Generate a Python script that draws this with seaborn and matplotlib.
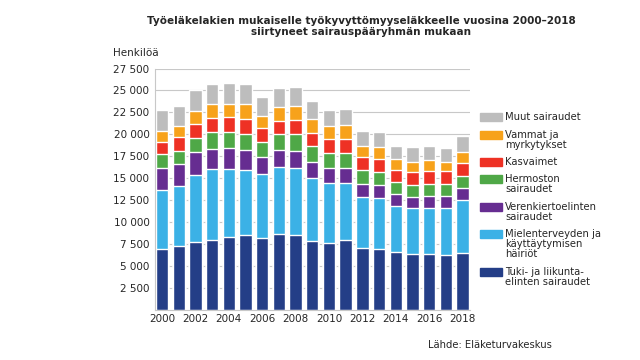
import pandas as pd
import matplotlib
matplotlib.use("Agg")
import matplotlib.pyplot as plt
from matplotlib.patches import Rectangle
import seaborn as sns

years = [str(y) for y in range(2000, 2019)]

# segment values, bottom to top
tuki = [7000, 7250, 7780, 8000, 8300, 8500, 8190, 8610, 8570, 7890,
        7670, 7970, 7020, 6990, 6610, 6420, 6340, 6230, 6460]
mieli = [6700, 6870, 7630, 8000, 7740, 7440, 7250, 7660, 7550, 7170,
         6800, 6500, 5820, 5780, 5210, 5140, 5290, 5440, 6080]
veren = [2420, 2490, 2530, 2380, 2450, 2300, 2000, 1960, 2000, 1780,
         1700, 1700, 1510, 1430, 1360, 1280, 1360, 1280, 1360]
hermo = [1590, 1550, 1700, 1890, 1810, 1850, 1700, 1810, 1930, 1850,
         1740, 1740, 1550, 1550, 1360, 1430, 1400, 1360, 1400]
kasv = [1430, 1510, 1590, 1550, 1700, 1700, 1550, 1510, 1620, 1470,
        1510, 1590, 1470, 1400, 1400, 1440, 1470, 1470, 1470]
vamm = [1280, 1250, 1470, 1590, 1470, 1620, 1430, 1620, 1590, 1620,
        1510, 1510, 1320, 1400, 1210, 1170, 1170, 1020, 1210]
muut = [2300, 2300, 2380, 2380, 2420, 2300, 2190, 2110, 2190, 2000,
        1890, 1850, 1660, 1740, 1550, 1700, 1700, 1700, 1850]

groups = ["Tuki- ja liikunta-\nelinten sairaudet",
          "Mielenterveyden ja\nkäyttäytymisen\nhäiriöt",
          "Verenkiertoelinten\nsairaudet",
          "Hermoston\nsairaudet",
          "Kasvaimet",
          "Vammat ja\nmyrkytykset",
          "Muut sairaudet"]
colors = ["#243E87", "#3BB1E6", "#662D91", "#4FA847", "#EE3124", "#F7A21B", "#BDBDBD"]

df = pd.DataFrame({"year": years, groups[0]: tuki, groups[1]: mieli, groups[2]: veren,
                   groups[3]: hermo, groups[4]: kasv, groups[5]: vamm, groups[6]: muut})
cum = df[groups].cumsum(axis=1)

sns.set_style("white")
plt.rcParams["font.family"] = ["DejaVu Sans"]

fig = plt.figure(figsize=(6.4, 3.6), dpi=100)
ax = fig.add_axes([155 / 640, 1 - 310 / 360, 315 / 640, 241.5 / 360])

# draw tallest cumulative first so lower segments sit on top
for g, c in reversed(list(zip(groups, colors))):
    sns.barplot(x=df["year"], y=cum[g], color=c, saturation=1, width=0.74,
                order=years, ax=ax, zorder=2)

ax.set_ylim(0, 27500)
ax.set_xlim(-0.42, 18.45)
yt = list(range(2500, 27501, 2500))
ax.set_yticks(yt)
ax.set_yticklabels([f"{v:,}".replace(",", " ") for v in yt], fontsize=7.5)
ax.set_xticks(range(0, 19, 2))
ax.set_xticklabels(years[::2], fontsize=7.5)
ax.set_xlabel("")
ax.set_ylabel("")
ax.yaxis.grid(True, color="#C8C8C8", linewidth=0.8, zorder=0)
ax.set_axisbelow(True)
ax.tick_params(axis="y", length=2, color="#C8C8C8", pad=2)
ax.tick_params(axis="x", length=0, pad=3)
for s in ["top", "right"]:
    ax.spines[s].set_visible(False)
for s in ["left", "bottom"]:
    ax.spines[s].set_color("#C8C8C8")
    ax.spines[s].set_linewidth(0.8)

fig.text(361 / 640, 1 - 26.5 / 360,
         "Työeläkelakien mukaiselle työkyvyttömyyseläkkeelle vuosina 2000–2018\n"
         "siirtyneet sairauspääryhmän mukaan",
         ha="center", va="center", fontsize=7.5, weight="bold", linespacing=1.15)
fig.text(113 / 640, 1 - 53 / 360, "Henkilöä", ha="left", va="center", fontsize=7.5)
fig.text(490 / 640, 1 - 345 / 360, "Lähde: Eläketurvakeskus", ha="center", va="center",
         fontsize=7.2)

# legend drawn by hand so each swatch lines up with the first text line
leg_y = [117, 135, 162, 179, 207, 234, 272]
order = list(range(6, -1, -1))
for yy, i in zip(leg_y, order):
    fig.patches.append(Rectangle((480 / 640, 1 - (yy + 4) / 360), 22 / 640, 8 / 360,
                                 transform=fig.transFigure, color=colors[i]))
    fig.text(505 / 640, 1 - (yy - 5) / 360, groups[i], ha="left", va="top",
             fontsize=7.2, linespacing=1.0)

fig.savefig("out.png", dpi=100)
